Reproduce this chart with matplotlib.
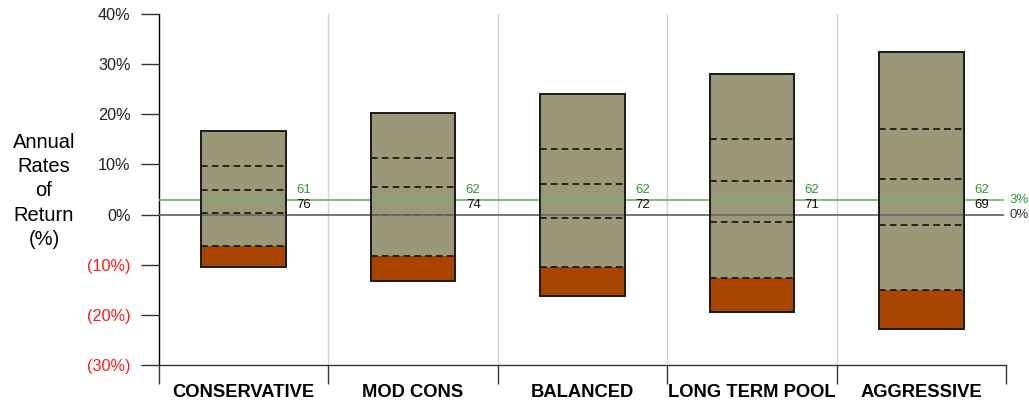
import matplotlib
matplotlib.use("Agg")
import matplotlib.pyplot as plt
from matplotlib.ticker import FixedLocator, FuncFormatter

plt.rcParams['font.family'] = ['Liberation Sans', 'DejaVu Sans']

# Portfolios and their return distributions (annual %, by percentile band)
categories = ["CONSERVATIVE", "MOD CONS", "BALANCED", "LONG TERM POOL", "AGGRESSIVE"]
top_values = [16.6, 20.2, 24.0, 28.1, 32.4]
upper_quart = [9.7, 11.3, 13.1, 15.1, 17.1]
median_vals = [4.9, 5.4, 6.0, 6.6, 7.1]
lower_quart = [0.4, -0.1, -0.7, -1.5, -2.1]
tail_start = [-6.3, -8.2, -10.4, -12.7, -15.0]
bottom_values = [-10.4, -13.3, -16.3, -19.5, -22.8]

# Counts shown beside each bar
above_target = [61, 62, 62, 62, 62]
above_zero = [76, 74, 72, 71, 69]

target_rate = 3
yticks = [-30, -20, -10, 0, 10, 20, 30, 40]

olive = "#9a9878"
rust = "#a84400"
green_line = "#6dbb6d"
green_text = "#2e9a2e"

fig = plt.figure(figsize=(10.29, 4.03), dpi=100)
ax = fig.add_axes([159 / 1029, 1 - 365 / 403, 847 / 1029, 351 / 403])

bar_w = 0.5
x = list(range(len(categories)))

for i in x:
    left = i - bar_w / 2
    # main body and downside tail
    ax.bar(i, top_values[i] - tail_start[i], bottom=tail_start[i], width=bar_w,
           color=olive, edgecolor="none", zorder=3)
    ax.bar(i, tail_start[i] - bottom_values[i], bottom=bottom_values[i], width=bar_w,
           color=rust, edgecolor="none", zorder=3)
    # outline
    ax.bar(i, top_values[i] - bottom_values[i], bottom=bottom_values[i], width=bar_w,
           color="none", edgecolor="#1a1a1a", linewidth=1.4, zorder=5)
    # percentile markers
    for yv in (upper_quart[i], median_vals[i], lower_quart[i], tail_start[i]):
        ax.plot([left, left + bar_w], [yv, yv], color="#111111", lw=1.2,
                linestyle=(0, (4, 2.5)), zorder=4)
    ax.annotate(str(above_target[i]), xy=(i + bar_w / 2, target_rate),
                xytext=(7.5, 7.2), textcoords="offset points", color=green_text,
                fontsize=9.5, ha="left", va="center", zorder=6)
    ax.annotate(str(above_zero[i]), xy=(i + bar_w / 2, target_rate),
                xytext=(7.5, -3.8), textcoords="offset points", color="#111111",
                fontsize=9.5, ha="left", va="center", zorder=6)

# reference lines
line_end = (1003 - 159) / 847
ax.axhline(target_rate, xmin=0, xmax=line_end, color=green_line, lw=1.3, zorder=4.5)
ax.axhline(0, xmin=0, xmax=line_end, color="#6a6a6a", lw=1.3, zorder=4.5)
ax.text(4.5 + 3 / 169.4, target_rate, "3%", color=green_text, fontsize=9.5,
        ha="left", va="center")
ax.text(4.5 + 3 / 169.4, 0, "0%", color="#333333", fontsize=9.5,
        ha="left", va="center")

# category separators
for b in [0.5, 1.5, 2.5, 3.5]:
    ax.axvline(b, color="#d2d2d2", lw=1.0, zorder=1)

ax.set_xlim(-0.5, 4.5)
ax.set_ylim(-30, 40)

for side in ("top", "right"):
    ax.spines[side].set_visible(False)
ax.spines["left"].set_linewidth(1.0)
ax.spines["bottom"].set_linewidth(1.0)
ax.spines["bottom"].set_color("#333333")

# y axis
ax.set_yticks(yticks)
ax.yaxis.set_major_formatter(FuncFormatter(
    lambda v, p: f"({abs(int(v))}%)" if v < 0 else f"{int(v)}%"))
ax.tick_params(axis="y", direction="out", length=13, width=1.0, pad=7.5,
               labelsize=11.7, color="#333333")
for lbl, v in zip(ax.get_yticklabels(), yticks):
    lbl.set_color("#ff1a1a" if v < 0 else "#222222")

# x axis: labels at centres, ticks at boundaries
ax.set_xticks(x)
ax.set_xticklabels(categories, fontsize=13.2, fontweight="bold")
ax.tick_params(axis="x", which="major", length=0, pad=13.5)
ax.xaxis.set_minor_locator(FixedLocator([-0.5, 0.5, 1.5, 2.5, 3.5, 4.5]))
ax.tick_params(axis="x", which="minor", direction="out", length=13.5, width=1.0,
               color="#333333")

fig.text(44 / 1029, 1 - 191 / 403, "Annual\nRates\nof\nReturn\n(%)", fontsize=14.5,
         ha="center", va="center", multialignment="center", linespacing=1.36)

fig.savefig("out.png", dpi=100)
